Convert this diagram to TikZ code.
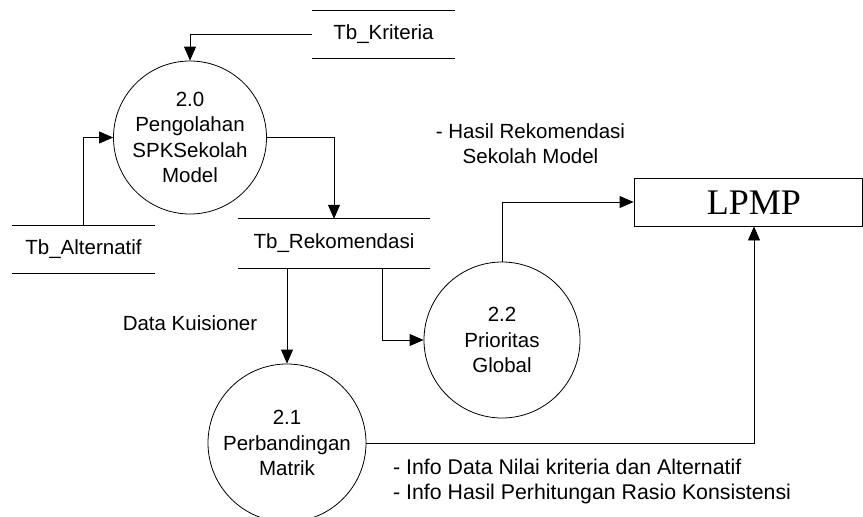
\documentclass[tikz,border=0pt]{standalone}
\usepackage{fontspec}
\setmainfont{Liberation Sans}
\newfontfamily\seriffont{Liberation Serif}
\usetikzlibrary{arrows.meta}
\tikzset{
  every node/.style={font=\fontsize{20.5pt}{25.5pt}\selectfont},
  proc/.style={circle, draw, line width=0.8pt, inner sep=0pt, align=center},
  store/.style={inner sep=0pt, minimum height=47pt},
  storeline/.style={draw, line width=0.8pt},
  entity/.style={draw, line width=0.8pt, inner sep=0pt},
  flow/.style={draw, line width=0.8pt, -{Triangle[length=14pt,width=12pt]}},
  lbl/.style={inner sep=0pt}
}
\begin{document}
\begin{tikzpicture}[x=1pt,y=-1pt]
\useasboundingbox (0,0) rectangle (863,517);
% data stores
\node[store, minimum width=143pt] (kri) at (383.5,34.5) {Tb\_Kriteria};
\node[store, minimum width=143pt] (alt) at (83.5,249.5) {Tb\_Alternatif};
\node[store, minimum width=192pt, minimum height=49pt] (rek) at (334,243.5) {Tb\_Rekomendasi};
\foreach \s in {kri,alt,rek}{
  \draw[storeline] (\s.north west) -- (\s.north east);
  \draw[storeline] (\s.south west) -- (\s.south east);
}
% processes
\node[proc, minimum size=153pt] (c20) at (190,137.5) {2.0\\Pengolahan\\SPKSekolah\\Model};
\node[proc, minimum size=158pt] (c21) at (287,443) {2.1\\Perbandingan\\Matrik};
\node[proc, minimum size=156pt] (c22) at (502,340) {2.2\\Prioritas\\Global};
% external entity
\node[entity, minimum width=228pt, minimum height=48pt] (lpmp) at (748,202) {};
\node[lbl, font=\seriffont\fontsize{36pt}{36pt}\selectfont] (lpmptext) at (754,203) {LPMP};
% flows
\draw[flow] (kri.west) -| (c20.north);
\draw[flow] (alt.north) |- (c20.west);
\draw[flow] (c20.east) -| (rek.north);
\draw[flow] (rek.south -| c21.north) -- (c21.north);
\draw[flow] ([xshift=48pt]rek.south) |- (c22.west);
\draw[flow] (c22.north) |- (lpmp.west);
\draw[flow] (c21.east) -| ([xshift=6pt]lpmp.south);
% labels
\node[lbl, align=center] (hasil) at (530.5,143.5) {- Hasil Rekomendasi\\Sekolah Model};
\node[lbl] (kuis) at (190,323) {Data Kuisioner};
\node[lbl, align=left, anchor=west, font=\fontsize{21.3pt}{25pt}\selectfont] (info) at (393,481) {- Info Data Nilai kriteria dan Alternatif\\- Info Hasil Perhitungan Rasio Konsistensi};
\end{tikzpicture}
\end{document}
